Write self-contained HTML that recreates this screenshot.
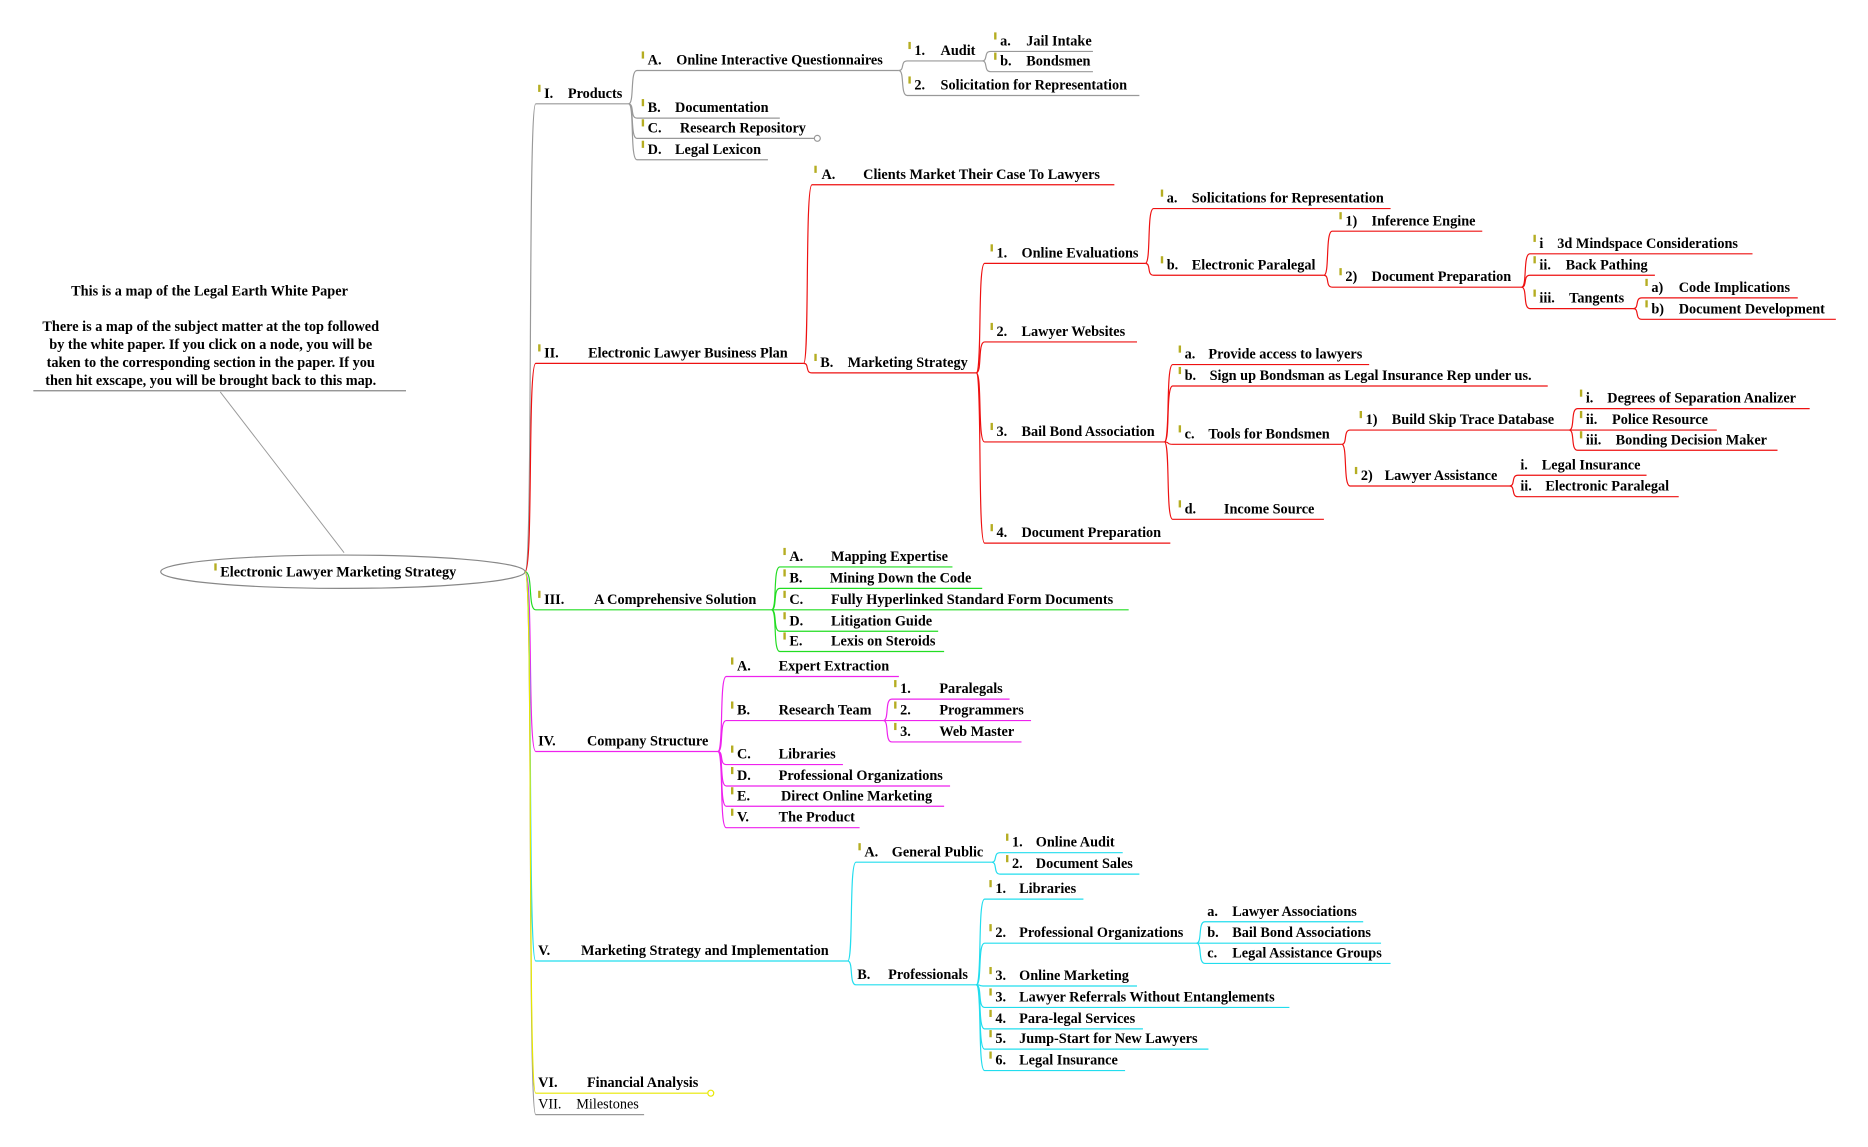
<!DOCTYPE html>
<html><head><meta charset="utf-8"><style>
html,body{margin:0;padding:0;background:#fff;}
svg{display:block;}
text{font-family:"Liberation Serif",serif;font-size:12px;font-weight:bold;fill:#000;}
.n{font-weight:normal;}
.ic{fill:#b5ad22;}
</style></head><body>
<svg width="1868" height="1147" viewBox="0 0 1569 963" xmlns="http://www.w3.org/2000/svg">
<g text-anchor="middle" style="font-size:11.5px">
<text x="176" y="248">This is a map of the Legal Earth White Paper</text>
<text x="177" y="278">There is a map of the subject matter at the top followed</text>
<text x="177" y="293">by the white paper.  If you click on a node, you will be</text>
<text x="177" y="308">taken to the corresponding section in the paper.  If you</text>
<text x="177" y="323">then hit exscape, you will be brought back to this map.</text>
</g>
<line x1="28" y1="328" x2="341" y2="328" stroke="#888" stroke-width="1"/>
<line x1="185" y1="329" x2="289" y2="464" stroke="#999" stroke-width="0.8"/>
<ellipse cx="288" cy="480" rx="153" ry="14" fill="#fff" stroke="#888" stroke-width="1"/>
<rect class="ic" x="180" y="473" width="2" height="6"/>
<text x="185" y="484">Electronic Lawyer Marketing Strategy</text>

<g fill="none" stroke="#999" stroke-width="1">
<path d="M441 480 C448 480 443 87 450 87 H528"/>
<path d="M441 480 C448 480 443 936 450 936 H541"/>
<path d="M528 87 C533 87 529 59 535 59 H755"/>
<path d="M528 87 C533 87 529 99 535 99 H655"/>
<path d="M528 87 C533 87 529 116 535 116 H684"/>
<circle cx="686.5" cy="116" r="2.5"/>
<path d="M528 87 C533 87 529 134 535 134 H645"/>
<path d="M755 59 C760 59 756 51 762 51 H825"/>
<path d="M755 59 C760 59 756 80 762 80 H957"/>
<path d="M825 51 C830 51 826 43 832 43 H918"/>
<path d="M825 51 C830 51 826 60 832 60 H918"/>
</g>
<g fill="none" stroke="#ee1111" stroke-width="1">
<path d="M441 480 C448 480 443 305 450 305 H675"/>
<path d="M675 305 C680 305 676 155 682 155 H936"/>
<path d="M675 305 C680 305 676 313 682 313 H820"/>
<path d="M820 313 C825 313 821 221 827 221 H962"/>
<path d="M820 313 C825 313 821 287 827 287 H955"/>
<path d="M820 313 C825 313 821 371 827 371 H978"/>
<path d="M820 313 C825 313 821 456 827 456 H983"/>
<path d="M962 221 C967 221 963 175 969 175 H1168"/>
<path d="M962 221 C967 221 963 231 969 231 H1112"/>
<path d="M1112 231 C1117 231 1113 194 1119 194 H1245"/>
<path d="M1112 231 C1117 231 1113 241 1119 241 H1278"/>
<path d="M1278 241 C1283 241 1279 213 1285 213 H1472"/>
<path d="M1278 241 C1283 241 1279 231 1285 231 H1390"/>
<path d="M1278 241 C1283 241 1279 259 1285 259 H1372"/>
<path d="M1372 259 C1377 259 1373 250 1379 250 H1510"/>
<path d="M1372 259 C1377 259 1373 268 1379 268 H1542"/>
<path d="M978 371 C983 371 979 306 985 306 H1150"/>
<path d="M978 371 C983 371 979 324 985 324 H1300"/>
<path d="M978 371 C983 371 979 373 985 373 H1127"/>
<path d="M978 371 C983 371 979 436 985 436 H1112"/>
<path d="M1127 373 C1132 373 1128 361 1134 361 H1318"/>
<path d="M1127 373 C1132 373 1128 408 1134 408 H1268"/>
<path d="M1318 361 C1323 361 1319 343 1325 343 H1520"/>
<path d="M1318 361 C1323 361 1319 361 1325 361 H1442"/>
<path d="M1318 361 C1323 361 1319 378 1325 378 H1493"/>
<path d="M1268 408 C1273 408 1269 399 1275 399 H1383"/>
<path d="M1268 408 C1273 408 1269 417 1275 417 H1410"/>
</g>
<g fill="none" stroke="#22dd22" stroke-width="1">
<path d="M441 480 C448 480 443 512 450 512 H648"/>
<path d="M648 512 C653 512 649 476 655 476 H800"/>
<path d="M648 512 C653 512 649 494 655 494 H825"/>
<path d="M648 512 C653 512 649 512 655 512 H948"/>
<path d="M648 512 C653 512 649 530 655 530 H788"/>
<path d="M648 512 C653 512 649 547 655 547 H793"/>
</g>
<g fill="none" stroke="#ee22ee" stroke-width="1">
<path d="M441 480 C448 480 443 631 450 631 H603"/>
<path d="M603 631 C608 631 604 568 610 568 H755"/>
<path d="M603 631 C608 631 604 605 610 605 H742"/>
<path d="M603 631 C608 631 604 642 610 642 H708"/>
<path d="M603 631 C608 631 604 660 610 660 H798"/>
<path d="M603 631 C608 631 604 677 610 677 H793"/>
<path d="M603 631 C608 631 604 695 610 695 H722"/>
<path d="M742 605 C747 605 743 587 749 587 H848"/>
<path d="M742 605 C747 605 743 605 749 605 H866"/>
<path d="M742 605 C747 605 743 623 749 623 H858"/>
</g>
<g fill="none" stroke="#22ddee" stroke-width="1">
<path d="M441 480 C448 480 443 807 450 807 H712"/>
<path d="M712 807 C717 807 713 724 719 724 H833"/>
<path d="M712 807 C717 807 713 827 719 827 H820"/>
<path d="M833 724 C838 724 834 716 840 716 H943"/>
<path d="M833 724 C838 724 834 734 840 734 H957"/>
<path d="M820 827 C825 827 821 755 827 755 H910"/>
<path d="M820 827 C825 827 821 792 827 792 H1005"/>
<path d="M820 827 C825 827 821 828 827 828 H955"/>
<path d="M820 827 C825 827 821 846 827 846 H1083"/>
<path d="M820 827 C825 827 821 864 827 864 H960"/>
<path d="M820 827 C825 827 821 881 827 881 H1015"/>
<path d="M820 827 C825 827 821 899 827 899 H945"/>
<path d="M1005 792 C1010 792 1006 774 1012 774 H1145"/>
<path d="M1005 792 C1010 792 1006 792 1012 792 H1160"/>
<path d="M1005 792 C1010 792 1006 809 1012 809 H1168"/>
</g>
<g fill="none" stroke="#e8e800" stroke-width="1">
<path d="M441 480 C448 480 443 918 450 918 H594"/>
<circle cx="597" cy="918" r="2.5"/>
</g>

<g class="ic">
<rect x="452" y="71" width="2" height="6"/><rect x="452" y="289" width="2" height="6"/><rect x="452" y="496" width="2" height="6"/>
<rect x="539" y="43" width="2" height="6"/><rect x="539" y="83" width="2" height="6"/><rect x="539" y="100" width="2" height="6"/><rect x="539" y="118" width="2" height="6"/>
<rect x="763" y="35" width="2" height="6"/><rect x="763" y="64" width="2" height="6"/><rect x="835" y="27" width="2" height="6"/><rect x="835" y="44" width="2" height="6"/>
<rect x="684" y="139" width="2" height="6"/><rect x="684" y="297" width="2" height="6"/>
<rect x="832" y="205" width="2" height="6"/><rect x="832" y="271" width="2" height="6"/><rect x="832" y="355" width="2" height="6"/><rect x="832" y="440" width="2" height="6"/>
<rect x="975" y="159" width="2" height="6"/><rect x="975" y="215" width="2" height="6"/>
<rect x="1125" y="178" width="2" height="6"/><rect x="1125" y="225" width="2" height="6"/>
<rect x="1288" y="197" width="2" height="6"/><rect x="1288" y="215" width="2" height="6"/><rect x="1288" y="243" width="2" height="6"/>
<rect x="1382" y="234" width="2" height="6"/><rect x="1382" y="252" width="2" height="6"/>
<rect x="990" y="290" width="2" height="6"/><rect x="990" y="308" width="2" height="6"/><rect x="990" y="357" width="2" height="6"/><rect x="990" y="420" width="2" height="6"/>
<rect x="1142" y="345" width="2" height="6"/><rect x="1138" y="392" width="2" height="6"/>
<rect x="1327" y="327" width="2" height="6"/><rect x="1327" y="345" width="2" height="6"/><rect x="1327" y="362" width="2" height="6"/>
<rect x="658" y="460" width="2" height="6"/><rect x="658" y="478" width="2" height="6"/><rect x="658" y="496" width="2" height="6"/><rect x="658" y="514" width="2" height="6"/><rect x="658" y="531" width="2" height="6"/>
<rect x="614" y="552" width="2" height="6"/><rect x="614" y="589" width="2" height="6"/><rect x="614" y="626" width="2" height="6"/><rect x="614" y="644" width="2" height="6"/><rect x="614" y="661" width="2" height="6"/><rect x="614" y="679" width="2" height="6"/>
<rect x="751" y="571" width="2" height="6"/><rect x="751" y="589" width="2" height="6"/><rect x="751" y="607" width="2" height="6"/>
<rect x="721" y="708" width="2" height="6"/><rect x="845" y="700" width="2" height="6"/><rect x="845" y="718" width="2" height="6"/>
<rect x="831" y="739" width="2" height="6"/><rect x="831" y="776" width="2" height="6"/><rect x="831" y="812" width="2" height="6"/><rect x="831" y="830" width="2" height="6"/><rect x="831" y="848" width="2" height="6"/><rect x="831" y="865" width="2" height="6"/><rect x="831" y="883" width="2" height="6"/>
</g>

<text x="457" y="82">I.</text><text x="477" y="82">Products</text>
<text x="457" y="300">II.</text><text x="494" y="300">Electronic Lawyer Business Plan</text>
<text x="457" y="507">III.</text><text x="499" y="507">A Comprehensive Solution</text>
<text x="452" y="626">IV.</text><text x="493" y="626">Company Structure</text>
<text x="452" y="802">V.</text><text x="488" y="802">Marketing Strategy and Implementation</text>
<text x="452" y="913">VI.</text><text x="493" y="913">Financial Analysis</text>
<text class="n" x="452" y="931">VII.</text><text class="n" x="484" y="931">Milestones</text>

<text x="544" y="54">A.</text><text x="568" y="54">Online Interactive Questionnaires</text>
<text x="544" y="94">B.</text><text x="567" y="94">Documentation</text>
<text x="544" y="111">C.</text><text x="571" y="111">Research Repository</text>
<text x="544" y="129">D.</text><text x="567" y="129">Legal Lexicon</text>
<text x="768" y="46">1.</text><text x="790" y="46">Audit</text>
<text x="768" y="75">2.</text><text x="790" y="75">Solicitation for Representation</text>
<text x="840" y="38">a.</text><text x="862" y="38">Jail Intake</text>
<text x="840" y="55">b.</text><text x="862" y="55">Bondsmen</text>

<text x="690" y="150">A.</text><text x="725" y="150">Clients Market Their Case To Lawyers</text>
<text x="689" y="308">B.</text><text x="712" y="308">Marketing Strategy</text>
<text x="837" y="216">1.</text><text x="858" y="216">Online Evaluations</text>
<text x="837" y="282">2.</text><text x="858" y="282">Lawyer Websites</text>
<text x="837" y="366">3.</text><text x="858" y="366">Bail Bond Association</text>
<text x="837" y="451">4.</text><text x="858" y="451">Document Preparation</text>
<text x="980" y="170">a.</text><text x="1001" y="170">Solicitations for Representation</text>
<text x="980" y="226">b.</text><text x="1001" y="226">Electronic Paralegal</text>
<text x="1130" y="189">1)</text><text x="1152" y="189">Inference Engine</text>
<text x="1130" y="236">2)</text><text x="1152" y="236">Document Preparation</text>
<text x="1293" y="208">i</text><text x="1308" y="208">3d Mindspace Considerations</text>
<text x="1293" y="226">ii.</text><text x="1315" y="226">Back Pathing</text>
<text x="1293" y="254">iii.</text><text x="1318" y="254">Tangents</text>
<text x="1387" y="245">a)</text><text x="1410" y="245">Code Implications</text>
<text x="1387" y="263">b)</text><text x="1410" y="263">Document Development</text>
<text x="995" y="301">a.</text><text x="1015" y="301">Provide access to lawyers</text>
<text x="995" y="319">b.</text><text x="1016" y="319">Sign up Bondsman as Legal Insurance Rep under us.</text>
<text x="995" y="368">c.</text><text x="1015" y="368">Tools for Bondsmen</text>
<text x="995" y="431">d.</text><text x="1028" y="431">Income Source</text>
<text x="1147" y="356">1)</text><text x="1169" y="356">Build Skip Trace Database</text>
<text x="1143" y="403">2)</text><text x="1163" y="403">Lawyer Assistance</text>
<text x="1332" y="338">i.</text><text x="1350" y="338">Degrees of Separation Analizer</text>
<text x="1332" y="356">ii.</text><text x="1354" y="356">Police Resource</text>
<text x="1332" y="373">iii.</text><text x="1357" y="373">Bonding Decision Maker</text>
<text x="1277" y="394">i.</text><text x="1295" y="394">Legal Insurance</text>
<text x="1277" y="412">ii.</text><text x="1298" y="412">Electronic Paralegal</text>

<text x="663" y="471">A.</text><text x="698" y="471">Mapping Expertise</text>
<text x="663" y="489">B.</text><text x="697" y="489">Mining Down the Code</text>
<text x="663" y="507">C.</text><text x="698" y="507">Fully Hyperlinked Standard Form Documents</text>
<text x="663" y="525">D.</text><text x="698" y="525">Litigation Guide</text>
<text x="663" y="542">E.</text><text x="698" y="542">Lexis on Steroids</text>

<text x="619" y="563">A.</text><text x="654" y="563">Expert Extraction</text>
<text x="619" y="600">B.</text><text x="654" y="600">Research Team</text>
<text x="619" y="637">C.</text><text x="654" y="637">Libraries</text>
<text x="619" y="655">D.</text><text x="654" y="655">Professional Organizations</text>
<text x="619" y="672">E.</text><text x="656" y="672">Direct Online Marketing</text>
<text x="619" y="690">V.</text><text x="654" y="690">The Product</text>
<text x="756" y="582">1.</text><text x="789" y="582">Paralegals</text>
<text x="756" y="600">2.</text><text x="789" y="600">Programmers</text>
<text x="756" y="618">3.</text><text x="789" y="618">Web Master</text>

<text x="726" y="719">A.</text><text x="749" y="719">General Public</text>
<text x="720" y="822">B.</text><text x="746" y="822">Professionals</text>
<text x="850" y="711">1.</text><text x="870" y="711">Online Audit</text>
<text x="850" y="729">2.</text><text x="870" y="729">Document Sales</text>
<text x="836" y="750">1.</text><text x="856" y="750">Libraries</text>
<text x="836" y="787">2.</text><text x="856" y="787">Professional Organizations</text>
<text x="836" y="823">3.</text><text x="856" y="823">Online Marketing</text>
<text x="836" y="841">3.</text><text x="856" y="841">Lawyer Referrals Without Entanglements</text>
<text x="836" y="859">4.</text><text x="856" y="859">Para-legal Services</text>
<text x="836" y="876">5.</text><text x="856" y="876">Jump-Start for New Lawyers</text>
<text x="836" y="894">6.</text><text x="856" y="894">Legal Insurance</text>
<text x="1014" y="769">a.</text><text x="1035" y="769">Lawyer Associations</text>
<text x="1014" y="787">b.</text><text x="1035" y="787">Bail Bond Associations</text>
<text x="1014" y="804">c.</text><text x="1035" y="804">Legal Assistance Groups</text>
</svg>
</body></html>
